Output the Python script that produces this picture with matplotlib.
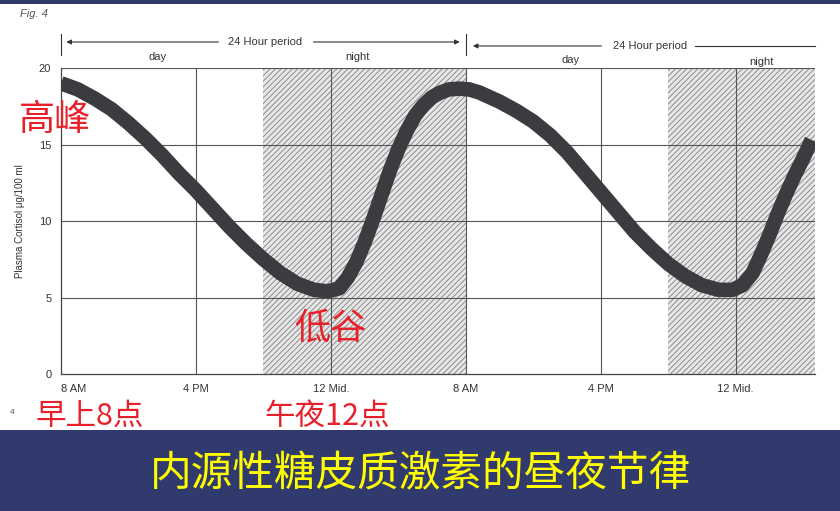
import matplotlib
matplotlib.use("Agg")
import matplotlib.pyplot as plt
from matplotlib.patches import Rectangle
from matplotlib.transforms import blended_transform_factory

plt.rcParams["font.family"] = ["Liberation Sans", "DejaVu Sans"]
plt.rcParams["hatch.linewidth"] = 0.6

# hours since 8 AM on day one, cortisol in ug/100 ml
hours = [0, 1, 2, 3, 4, 5, 6, 7, 8, 9, 10, 11, 12, 13, 14, 15, 15.8,
         16.5, 17.0, 17.5, 18.0, 18.5, 19.0, 19.5, 20.0, 20.5, 21.0, 21.5,
         22.0, 22.5, 23.0, 23.6, 24.2, 24.8, 25.4, 26.0, 26.5, 27, 28, 29,
         30, 31, 32, 33, 34, 35, 36, 37, 38, 39, 39.8, 40.4, 41.0, 41.5,
         42.0, 42.5, 43.0, 43.5, 44.0, 44.5]
cortisol = [19.0, 18.6, 18.0, 17.3, 16.4, 15.4, 14.3, 13.1, 12.0, 10.8,
            9.6, 8.5, 7.5, 6.6, 5.9, 5.5, 5.4,
            5.6, 6.3, 7.3, 8.6, 10.1, 11.7, 13.3, 14.7, 15.9, 16.9, 17.6,
            18.1, 18.4, 18.6, 18.65, 18.6, 18.4, 18.1, 17.8, 17.5, 17.2,
            16.5, 15.6, 14.5, 13.2, 11.9, 10.6, 9.3, 8.2, 7.2, 6.4, 5.8,
            5.5, 5.5, 5.8, 6.6, 7.8, 9.1, 10.5, 11.8, 13.0, 14.1, 15.3]

tick_pos = [0, 8, 16, 24, 32, 40]
tick_labels = ["8 AM", "4 PM", "12 Mid.", "8 AM", "4 PM", "12 Mid."]
night_spans = [(12, 24), (36, 44.7)]
period_labels = [("day", 5.7, 1.036), ("night", 17.6, 1.036),
                 ("day", 30.2, 1.026), ("night", 41.5, 1.02)]

W, H = 840, 511
fig = plt.figure(figsize=(W / 100, H / 100), dpi=100)
fig.patch.set_facecolor("white")

# navy bands
navy = "#313a6d"
fig.patches.append(Rectangle((0, 1 - 4 / H), 1, 4 / H, transform=fig.transFigure,
                             facecolor=navy, edgecolor="none"))
fig.patches.append(Rectangle((0, 0), 1, 81 / H, transform=fig.transFigure,
                             facecolor=navy, edgecolor="none"))

ax = fig.add_axes([61 / W, 1 - 374 / H, (815 - 61) / W, 306 / H])
ax.set_xlim(0, 44.7)
ax.set_ylim(0, 20)

for a, b in night_spans:
    ax.axvspan(a, b, facecolor="#e6e6e6", edgecolor="#808080", hatch="//////",
               linewidth=0, zorder=0)

for y in [5, 10, 15, 20]:
    ax.axhline(y, color="#555555", lw=0.8, zorder=1)
for x in [8, 16, 24, 32, 40]:
    ax.axvline(x, color="#555555", lw=0.8, zorder=1)

ax.plot(hours, cortisol, color="#3b3b40", lw=10.5, solid_capstyle="butt",
        solid_joinstyle="round", zorder=3)

for s in ["top", "right"]:
    ax.spines[s].set_visible(False)
ax.spines["left"].set_color("#444444")
ax.spines["bottom"].set_color("#444444")
ax.spines["left"].set_linewidth(0.9)
ax.spines["bottom"].set_linewidth(0.9)

ax.set_yticks([0, 5, 10, 15, 20])
ax.set_yticklabels(["0", "5", "10", "15", "20"])
ax.set_xticks(tick_pos)
ax.set_xticklabels(tick_labels)
ax.tick_params(length=0, labelsize=8, colors="#333333", pad=7)
ax.get_xticklabels()[0].set_ha("left")
ax.set_ylabel("Plasma Cortisol μg/100 ml", fontsize=7, color="#333333", labelpad=10)

# top 24 hour period markers
tr = blended_transform_factory(ax.transData, ax.transAxes)
for x in [0, 24]:
    ax.plot([x, x], [1.042, 1.11], transform=tr, color="#333333", lw=0.8, clip_on=False)
arrow = dict(arrowstyle="-|>", color="#333333", lw=0.8, mutation_scale=7)
ax.annotate("", xy=(0.15, 1.085), xytext=(9.5, 1.085), xycoords=tr, textcoords=tr,
            arrowprops=arrow)
ax.annotate("", xy=(23.8, 1.085), xytext=(14.8, 1.085), xycoords=tr, textcoords=tr,
            arrowprops=arrow)
ax.text(12.1, 1.085, "24 Hour period", transform=tr, ha="center", va="center",
        fontsize=8, color="#333333")
ax.annotate("", xy=(24.25, 1.072), xytext=(32.2, 1.072), xycoords=tr, textcoords=tr,
            arrowprops=arrow)
ax.plot([37.6, 44.7], [1.072, 1.072], transform=tr, color="#333333", lw=0.8, clip_on=False)
ax.text(34.9, 1.072, "24 Hour period", transform=tr, ha="center", va="center",
        fontsize=8, color="#333333")
for label, x, y in period_labels:
    ax.text(x, y, label, transform=tr, ha="center", va="center", fontsize=8,
            color="#333333")

fig.text(20 / W, 1 - 14 / H, "Fig. 4", fontsize=8, style="italic", color="#555555",
         va="center")
fig.text(10 / W, 1 - 412 / H, "4", fontsize=6, color="#555555", va="center")

# red handwritten notes
cjk = ["Noto Sans CJK SC", "DejaVu Sans"]
red = "#e8202a"
notes = [("高峰", 55, 120, 26), ("低谷", 330, 329, 26),
         ("早上8点", 90, 416, 22), ("午夜12点", 327, 416, 22)]
for txt, x, y, size in notes:
    fig.text(x / W, 1 - y / H, txt, fontsize=size, color=red, family=cjk,
             ha="center", va="center", fontweight="light")

fig.text(0.5, 1 - 475 / H, "内源性糖皮质激素的昼夜节律", fontsize=30, color="#ffff00",
         family=cjk, ha="center", va="center")

fig.savefig("out.png", dpi=100)
